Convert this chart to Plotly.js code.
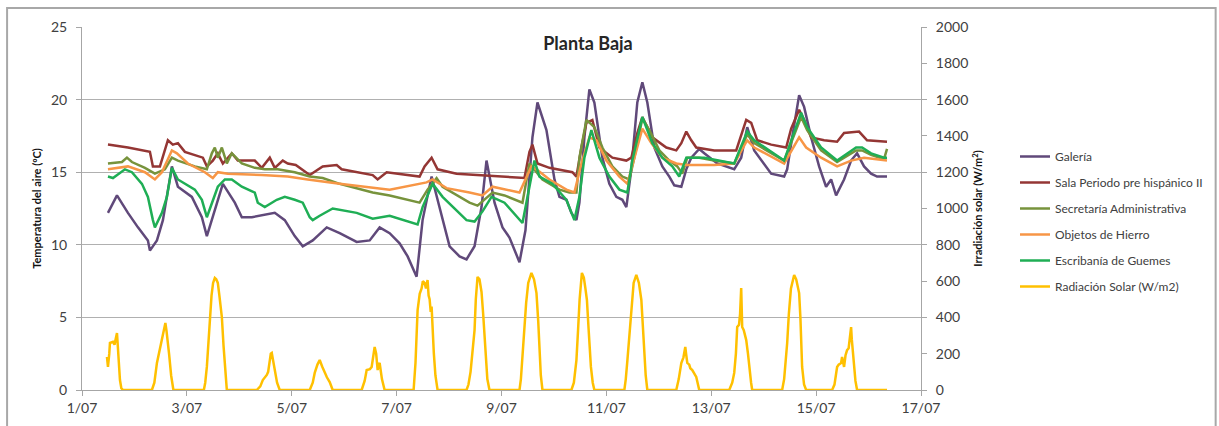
<!DOCTYPE html>
<html>
<head>
<meta charset="utf-8">
<script src="https://cdn.plot.ly/plotly-3.0.1.min.js"></script>
<style>html,body{margin:0;padding:0;background:#fff;}#chart{width:1219px;height:426px;}</style>
</head>
<body>
<div id="chart"></div>
<script>
// Times are decimal days of July (1.0 = 1/07 00:00)
const seriesNames = ['Galería','Sala Periodo pre hispánico II','Secretaría Administrativa','Objetos de Hierro','Escribanía de Guemes','Radiación Solar (W/m2)'];

const galeriaDay = [1.495,1.667,1.876,2.067,2.257,2.295,2.429,2.543,2.714,2.829,3.095,3.286,3.381,3.476,3.686,3.914,4.048,4.238,4.676,4.867,5.057,5.210,5.400,5.667,5.914,6.238,6.486,6.676,6.867,7.057,7.210,7.381,7.495,7.667,7.876,8.010,8.200,8.333,8.486,8.619,8.714,8.867,9.019,9.152,9.343,9.457,9.590,9.686,9.857,10.010,10.105,10.238,10.333,10.429,10.486,10.581,10.676,10.771,10.924,11.057,11.190,11.305,11.381,11.476,11.590,11.686,11.781,11.914,12.067,12.200,12.295,12.429,12.524,12.619,12.771,12.867,13.114,13.438,13.571,13.686,13.819,14.010,14.143,14.390,14.448,14.543,14.676,14.771,14.905,15.057,15.190,15.286,15.381,15.533,15.667,15.781,15.914,16.048,16.162,16.352];
const galeriaTemp = [12.2,13.4,12.2,11.2,10.3,9.6,10.3,11.7,15.4,14.0,13.3,11.9,10.6,11.7,14.2,12.9,11.9,11.9,12.2,11.7,10.6,9.9,10.3,11.2,10.8,10.2,10.3,11.2,10.8,10.1,9.2,7.8,11.7,14.7,11.7,9.9,9.2,9.0,9.9,12.6,15.8,12.9,11.2,10.5,8.8,11.0,17.4,19.8,17.9,14.5,13.3,13.1,12.2,11.7,12.9,17.4,20.7,19.8,16.0,14.2,13.3,13.1,12.6,15.2,19.8,21.2,19.8,16.7,15.4,14.7,14.1,14.0,15.2,16.0,16.6,16.3,15.6,15.2,16.0,18.1,16.5,15.6,14.9,14.7,15.2,17.4,20.3,19.5,17.4,15.4,14.0,14.5,13.4,14.5,15.8,16.3,15.4,14.9,14.7,14.7];

const salaDay = [1.495,1.876,2.295,2.352,2.486,2.638,2.733,2.829,2.962,3.305,3.381,3.495,3.590,3.686,3.857,3.971,4.295,4.429,4.581,4.676,4.829,4.924,5.076,5.343,5.590,5.857,5.952,6.543,6.638,6.810,7.438,7.533,7.667,7.781,8.143,9.057,9.438,9.533,9.590,9.686,9.914,10.352,10.429,10.524,10.619,10.733,10.867,11.114,11.381,11.476,11.590,11.686,11.876,12.143,12.333,12.429,12.524,12.619,12.714,13.057,13.476,13.667,13.762,13.876,14.143,14.429,14.524,14.676,14.771,14.905,15.152,15.400,15.533,15.819,15.971,16.352];
const salaTemp = [16.9,16.7,16.4,15.4,15.4,17.2,16.9,17.0,16.4,16.0,15.4,15.8,16.3,15.6,16.3,15.8,15.8,15.3,16.0,15.3,15.8,15.6,15.5,14.8,15.4,15.5,15.2,14.8,14.5,15.0,14.7,15.4,16.0,15.2,14.9,14.7,14.6,16.4,16.9,15.6,15.3,15.0,14.7,16.7,18.4,18.6,16.7,16.0,15.8,16.0,17.7,18.8,17.4,16.7,16.5,17.0,17.8,17.2,16.7,16.5,16.5,18.6,18.4,17.2,16.9,16.7,18.0,19.3,18.6,17.4,17.2,17.1,17.7,17.8,17.2,17.1];

const secretariaDay = [1.495,1.762,1.857,1.952,2.200,2.390,2.581,2.714,2.829,3.152,3.381,3.476,3.533,3.590,3.667,3.762,3.857,4.048,4.295,4.486,4.733,5.057,5.343,5.590,5.914,6.238,6.543,6.867,7.438,7.590,7.762,7.876,8.143,8.390,8.543,8.714,8.829,9.057,9.400,9.533,9.781,10.105,10.295,10.429,10.486,10.619,10.771,10.924,11.114,11.305,11.438,11.533,11.686,11.819,12.010,12.200,12.352,12.448,12.543,12.771,13.057,13.438,13.686,13.819,14.390,14.714,14.829,15.095,15.400,15.762,15.876,16.048,16.295,16.352];
const secretariaTemp = [15.6,15.7,16.0,15.7,15.3,14.9,15.2,16.0,15.8,15.4,15.2,16.3,16.7,16.0,16.7,15.6,16.3,15.6,15.3,15.2,15.2,15.0,14.7,14.6,14.2,13.9,13.6,13.4,12.9,13.8,14.6,14.0,13.4,12.9,12.7,13.2,13.6,13.4,12.9,15.6,14.5,13.8,13.6,13.6,16.0,18.6,18.1,16.7,15.4,14.7,14.5,16.0,18.7,17.9,16.5,15.8,15.4,14.9,16.0,16.0,15.8,15.6,17.6,17.0,15.8,18.8,17.9,16.5,15.7,16.5,16.5,16.2,15.9,16.6];

const objetosDay = [1.495,1.876,2.200,2.390,2.524,2.714,2.810,3.019,3.343,3.495,3.590,3.781,4.429,4.924,5.305,5.914,6.867,7.571,7.686,7.952,8.390,8.638,8.829,9.057,9.343,9.571,9.667,9.914,10.238,10.390,10.524,10.676,10.810,11.000,11.248,11.400,11.495,11.686,11.857,12.067,12.333,12.524,13.057,13.438,13.686,13.819,14.390,14.676,14.810,15.095,15.400,15.667,15.914,16.352];
const objetosTemp = [15.2,15.4,15.0,14.5,15.0,16.5,16.3,15.6,15.0,14.6,15.0,14.9,14.8,14.7,14.5,14.2,13.8,14.3,14.5,13.9,13.6,13.4,14.0,13.8,13.6,15.4,15.2,14.5,13.8,13.6,15.6,17.4,17.2,15.8,14.7,14.2,15.4,18.0,17.0,16.0,15.6,15.5,15.5,15.6,17.2,16.7,15.6,17.4,16.7,16.0,15.4,15.8,16.0,15.8];

const escribaniaDay = [1.495,1.590,1.819,1.952,2.143,2.257,2.352,2.390,2.524,2.619,2.714,2.829,3.152,3.286,3.381,3.476,3.590,3.724,3.857,4.048,4.295,4.352,4.486,4.714,4.867,5.057,5.210,5.343,5.400,5.533,5.781,6.238,6.543,6.867,7.400,7.495,7.686,7.876,8.143,8.333,8.486,8.638,8.810,9.057,9.400,9.476,9.629,9.724,9.971,10.238,10.390,10.486,10.581,10.714,10.867,11.057,11.248,11.400,11.495,11.686,11.876,12.067,12.257,12.390,12.524,12.771,12.867,13.438,13.686,13.819,14.390,14.714,14.829,15.095,15.400,15.762,15.876,16.048,16.295,16.352];
const escribaniaTemp = [14.7,14.6,15.2,15.0,14.2,13.3,11.7,11.2,12.2,13.3,15.3,14.5,13.8,13.1,11.9,12.9,14.0,14.5,14.5,14.0,13.6,12.9,12.6,13.1,13.3,13.1,12.9,11.9,11.7,12.0,12.5,12.2,11.8,12.0,11.4,12.6,14.2,13.3,12.4,11.7,11.6,12.3,13.3,12.9,11.5,12.9,15.8,14.7,14.2,13.1,11.7,13.3,16.0,17.9,16.0,14.7,13.8,13.6,15.8,18.8,17.0,16.0,15.4,14.7,16.0,16.0,16.0,15.6,17.8,17.2,15.8,19.1,18.1,16.7,15.8,16.7,16.7,16.3,16.0,16.0];

const solarDay = [
  1.476,1.495,1.52,1.533,1.59,1.62,1.667,1.686,1.705,1.724,1.75,1.781,
  2.333,2.38,2.429,2.48,2.533,2.56,2.59,2.61,2.629,2.66,2.70,2.743,
  3.324,3.35,3.381,3.41,3.438,3.47,3.50,3.533,3.56,3.59,3.62,3.667,3.70,3.73,3.762,
  4.333,4.40,4.448,4.50,4.524,4.55,4.581,4.60,4.619,4.65,4.676,4.72,4.771,
  5.343,5.40,5.438,5.49,5.533,5.58,5.629,5.67,5.724,5.781,
  6.333,6.39,6.429,6.49,6.524,6.55,6.581,6.61,6.638,6.657,6.676,6.72,6.771,
  7.324,7.36,7.40,7.44,7.476,7.50,7.533,7.56,7.59,7.61,7.629,7.65,7.667,7.686,7.71,7.74,7.781,
  8.333,8.37,8.41,8.448,8.486,8.51,8.543,8.58,8.619,8.65,8.676,8.70,8.73,8.771,
  9.343,9.37,9.40,9.438,9.47,9.51,9.571,9.62,9.667,9.70,9.724,9.75,9.781,
  10.333,10.38,10.429,10.46,10.49,10.533,10.57,10.60,10.629,10.66,10.69,10.705,10.74,10.771,
  11.343,11.37,11.40,11.438,11.48,11.52,11.571,11.62,11.667,11.69,11.724,11.75,11.781,
  12.333,12.38,12.429,12.47,12.505,12.52,12.543,12.58,12.60,12.638,12.68,12.714,12.771,
  13.343,13.40,13.438,13.47,13.495,13.53,13.55,13.571,13.58,13.59,13.62,13.667,13.70,13.724,13.76,13.781,
  14.352,14.39,14.42,14.448,14.48,14.52,14.581,14.62,14.676,14.70,14.733,14.77,14.81,
  15.305,15.35,15.40,15.43,15.476,15.495,15.51,15.533,15.56,15.59,15.62,15.64,15.667,15.68,15.70,15.724,15.75,15.781,16.352
];
const solarWm2 = [
  182,127,200,259,265,250,314,237,130,55,10,0,
  0,40,149,220,275,330,369,330,290,200,80,0,
  0,40,127,260,402,520,590,617,610,590,520,402,240,100,0,
  0,20,55,75,83,100,182,200,204,150,110,40,0,
  0,40,94,140,165,130,94,70,44,0,
  0,50,110,115,127,190,237,200,110,140,149,60,0,
  0,150,440,530,560,600,590,560,606,520,500,430,460,300,200,80,0,
  0,30,100,200,330,500,623,610,540,420,314,180,60,0,
  0,60,190,347,480,590,645,610,534,380,220,80,0,
  0,40,165,330,500,645,620,560,496,340,200,127,40,0,
  0,60,160,314,480,590,634,590,496,380,220,80,0,
  0,60,149,180,237,200,149,140,120,110,90,72,0,
  0,40,94,200,347,360,420,562,420,347,330,275,200,127,40,0,
  0,60,150,259,420,560,634,610,534,400,127,30,0,
  0,30,127,140,149,182,150,127,190,220,230,300,347,280,200,127,50,0,0
];

const xTickFirst = '2013-07-01';
const xTickLast = '2013-07-17';

function toDate(d) {
  const ms = Date.UTC(2013, 6, 1) + (d - 1) * 86400000;
  return new Date(ms).toISOString().replace('T', ' ').slice(0, 19);
}

const colors = ['#60497A', '#943634', '#77933C', '#F79646', '#1FAE55', '#FFC000'];
const xs = [galeriaDay, salaDay, secretariaDay, objetosDay, escribaniaDay, solarDay];
const ys = [galeriaTemp, salaTemp, secretariaTemp, objetosTemp, escribaniaTemp, solarWm2];

const traces = seriesNames.map((name, i) => ({
  type: 'scatter',
  mode: 'lines',
  name: name,
  legendgroup: 'g' + i,
  x: xs[i].map(toDate),
  y: ys[i],
  yaxis: i === 5 ? 'y2' : 'y',
  line: {color: colors[i], width: 2.5},
  hoverinfo: 'x+y+name'
}));

const axisGrey = '#a6a6a6';
const px2paperX = p => (p - 82) / 840;
const px2paperY = p => (390 - p) / 363;

const layout = {
  width: 1219, height: 426,
  margin: {l: 82, r: 297, t: 27, b: 36},
  paper_bgcolor: '#ffffff', plot_bgcolor: '#ffffff',
  font: {family: 'Lato, "Open Sans", sans-serif', color: '#404040', size: 14},
  title: {
    text: '<b>Planta Baja</b>',
    font: {size: 18, color: '#262626', family: 'Lato, sans-serif'},
    x: 588 / 1219, xref: 'container', xanchor: 'center',
    y: 1 - 44 / 426, yref: 'container', yanchor: 'middle'
  },
  showlegend: true,
  legend: {
    x: px2paperX(1015), xanchor: 'left',
    y: px2paperY(142), yanchor: 'top',
    font: {size: 12, color: '#404040'},
    tracegroupgap: 7,
    bgcolor: 'rgba(0,0,0,0)'
  },
  xaxis: {
    type: 'date',
    range: [xTickFirst, xTickLast],
    tick0: xTickFirst, dtick: 2 * 86400000,
    tickformat: '%-d/%m',
    ticks: 'outside', ticklen: 5, tickcolor: axisGrey,
    showline: true, linecolor: axisGrey, linewidth: 1,
    showgrid: false, zeroline: false,
    tickfont: {size: 14, color: '#404040'},
    automargin: false
  },
  yaxis: {
    range: [0, 25], dtick: 5,
    ticks: 'outside', ticklen: 5, tickcolor: axisGrey,
    showline: true, linecolor: axisGrey, linewidth: 1,
    showgrid: true, gridcolor: '#b0b0b0', gridwidth: 1,
    zeroline: false,
    tickfont: {size: 14, color: '#404040'},
    ticklabelstandoff: 6,
    automargin: false,
    title: {text: '<b>Temperatura del aire (ºC)</b>', font: {size: 11, color: '#111'}, standoff: 7}
  },
  yaxis2: {
    overlaying: 'y', side: 'right',
    range: [0, 2000], dtick: 200,
    ticks: 'outside', ticklen: 5, tickcolor: axisGrey,
    showline: true, linecolor: axisGrey, linewidth: 1,
    showgrid: false, zeroline: false,
    tickfont: {size: 14, color: '#404040'},
    ticklabelstandoff: 6,
    automargin: false,
    title: {text: '<b>Irradiación solar (W/m<sup>2</sup>)</b>', font: {size: 11, color: '#111'}, standoff: 7}
  },
  shapes: [{
    type: 'rect', xref: 'paper', yref: 'paper',
    x0: px2paperX(7), x1: px2paperX(1217),
    y0: px2paperY(440), y1: px2paperY(8),
    line: {color: '#a8a8a8', width: 2},
    layer: 'below'
  }]
};

Plotly.newPlot('chart', traces, layout, {displayModeBar: false, responsive: false});
</script>
</body>
</html>
